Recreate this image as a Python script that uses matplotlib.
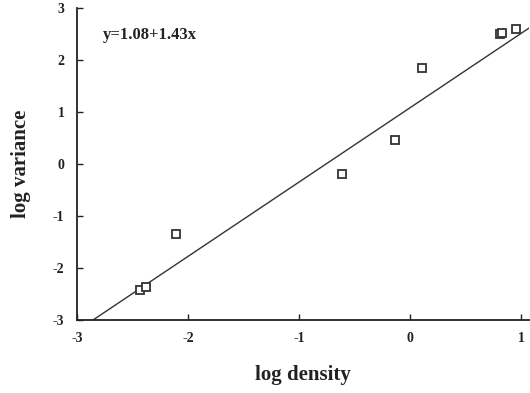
import numpy as np
import matplotlib
matplotlib.use("Agg")
import matplotlib.pyplot as plt

# values
log_density = [-2.43, -2.38, -2.11, -0.61, -0.14, 0.11, 0.81, 0.83, 0.955]
log_variance = [-2.42, -2.37, -1.35, -0.19, 0.46, 1.85, 2.50, 2.52, 2.60]
intercept = 1.08
slope = 1.43
x_ticks = [-3, -2, -1, 0, 1]
y_ticks = [-3, -2, -1, 0, 1, 2, 3]

plt.rcParams['font.family'] = ['Liberation Serif', 'DejaVu Serif']
plt.rcParams['font.weight'] = 'bold'
plt.rcParams['axes.unicode_minus'] = False

fig = plt.figure(figsize=(5.3, 3.93), dpi=100)
ax = fig.add_axes([0.145, 0.186, 0.853, 0.794])

xs = np.array([-3, 1.07])
ax.plot(xs, intercept + slope * xs, color="#333333", linewidth=1.0)
ax.plot(log_density, log_variance, linestyle="none", marker="s", markersize=6.3,
        markerfacecolor="white", markeredgecolor="#333333", markeredgewidth=1.3)

ax.set_xlim(-3, 1.07)
ax.set_ylim(-3, 3)
ax.set_xticks(x_ticks)
ax.set_yticks(y_ticks)
ax.tick_params(direction="in", length=4, width=1, labelsize=10, colors="#222222")
ax.tick_params(axis="x", pad=9)
ax.tick_params(axis="y", pad=9)
for lab in ax.get_xticklabels() + ax.get_yticklabels():
    lab.set_fontweight("bold")
ax.spines["top"].set_visible(False)
ax.spines["right"].set_visible(False)
ax.spines["left"].set_linewidth(1.3)
ax.spines["bottom"].set_linewidth(1.3)
ax.spines["left"].set_color("#222222")
ax.spines["bottom"].set_color("#222222")

ax.set_xlabel("log density", fontsize=15, fontweight="bold", labelpad=14, color="#222222")
ax.set_ylabel("log variance", fontsize=15, fontweight="bold", labelpad=16, color="#222222")
ax.text(-2.77, 2.48, "y=1.08+1.43x", fontsize=12, fontweight="bold", va="center", color="#222222")

fig.savefig("out.png", dpi=100)
